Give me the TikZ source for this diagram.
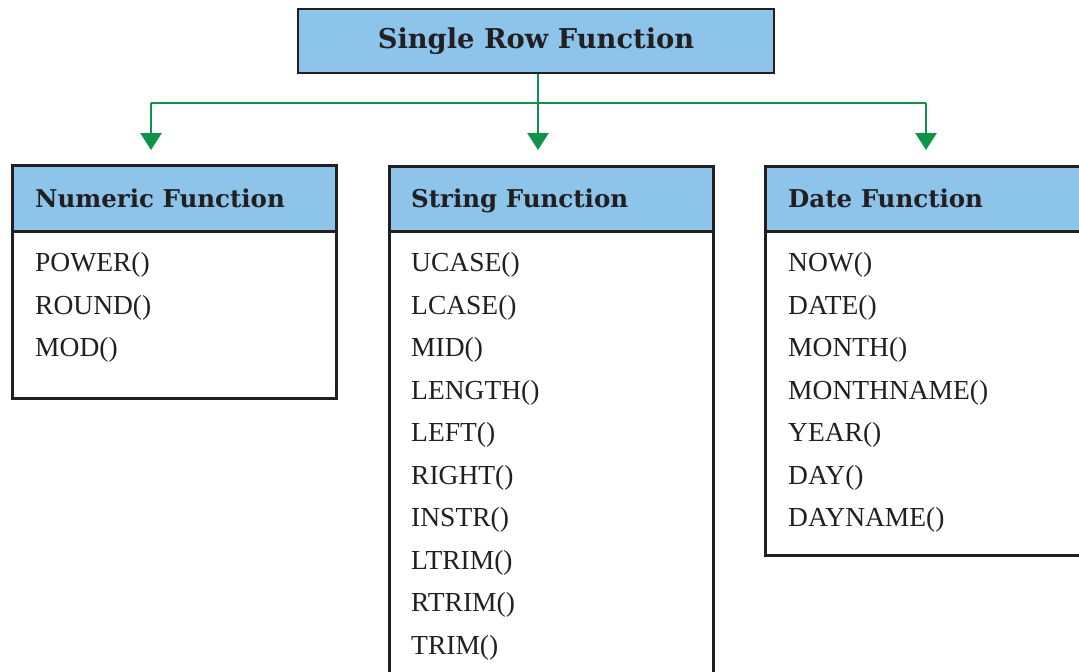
\documentclass[tikz,border=0pt]{standalone}
\usepackage{fontspec}
\setmainfont{Liberation Serif}
\newfontfamily\headfont{DejaVu Serif}
\usetikzlibrary{arrows.meta}
\definecolor{hdrblue}{HTML}{8DC4EA}
\definecolor{edgec}{HTML}{231F20}
\definecolor{arrgreen}{HTML}{0D9447}
\begin{document}
\begin{tikzpicture}[x=1pt,y=-1pt,
  hdrbox/.style={draw=edgec, line width=2.5pt, fill=hdrblue, rectangle, inner sep=0pt},
  bodybox/.style={draw=edgec, line width=2.5pt, fill=white, rectangle, inner sep=0pt, anchor=north west},
  hdrtext/.style={anchor=base west, font=\headfont\bfseries\fontsize{24.5}{28}\selectfont, text=edgec, inner sep=0pt},
  titletext/.style={anchor=base, font=\headfont\bfseries\fontsize{27.3}{31}\selectfont, text=edgec, inner sep=0pt},
  item/.style={anchor=base west, font=\fontsize{27.5}{33}\selectfont, text=edgec, inner sep=0pt},
  conn/.style={draw=arrgreen, line width=2.5pt},
  tip/.style={conn, -{Triangle[width=21pt,length=17pt]}}
]
\useasboundingbox[fill=white] (0,0) rectangle (1079,672);

% top box
\node[hdrbox, minimum width=476pt, minimum height=64pt] (top) at (536,41) {};
\node[titletext] (toptext) at (536,48) {Single Row Function};

% connectors
\coordinate (split) at (538,103);
\coordinate (a1) at (151,150);
\coordinate (a2) at (538,150);
\coordinate (a3) at (926,150);
\draw[conn] (top.south -| split) -- (split);
\draw[conn] (a1 |- split) -- (a3 |- split);
\draw[tip] (a1 |- split) -- (a1);
\draw[tip] (split) -- (a2);
\draw[tip] (a3 |- split) -- (a3);

% numeric
\node[bodybox, minimum width=324pt, minimum height=233pt] (numb) at (11,164) {};
\node[hdrbox, anchor=north west, minimum width=324pt, minimum height=66pt] (numh) at (11,164) {};
\node[hdrtext] (numt) at (35,207) {Numeric Function};
\node[item] (n1) at (35,271.5) {POWER()};
\node[item] (n2) at (35,314) {ROUND()};
\node[item] (n3) at (35,356.5) {MOD()};

% string
\node[bodybox, minimum width=324pt, minimum height=520pt] (strb) at (388,165) {};
\node[hdrbox, anchor=north west, minimum width=324pt, minimum height=65pt] (strh) at (388,165) {};
\node[hdrtext] (strt) at (411,207) {String Function};
\node[item] (s1) at (411,271.5) {UCASE()};
\node[item] (s2) at (411,314) {LCASE()};
\node[item] (s3) at (411,356.5) {MID()};
\node[item] (s4) at (411,399) {LENGTH()};
\node[item] (s5) at (411,441.5) {LEFT()};
\node[item] (s6) at (411,484) {RIGHT()};
\node[item] (s7) at (411,526.5) {INSTR()};
\node[item] (s8) at (411,569) {LTRIM()};
\node[item] (s9) at (411,611.5) {RTRIM()};
\node[item] (s10) at (411,654) {TRIM()};

% date
\node[bodybox, minimum width=340pt, minimum height=389pt] (datb) at (764,165) {};
\node[hdrbox, anchor=north west, minimum width=340pt, minimum height=65pt] (dath) at (764,165) {};
\node[hdrtext] (datt) at (788,207) {Date Function};
\node[item] (d1) at (788,271.5) {NOW()};
\node[item] (d2) at (788,314) {DATE()};
\node[item] (d3) at (788,356.5) {MONTH()};
\node[item] (d4) at (788,399) {MONTHNAME()};
\node[item] (d5) at (788,441.5) {YEAR()};
\node[item] (d6) at (788,484) {DAY()};
\node[item] (d7) at (788,526.5) {DAYNAME()};
\end{tikzpicture}
\end{document}
